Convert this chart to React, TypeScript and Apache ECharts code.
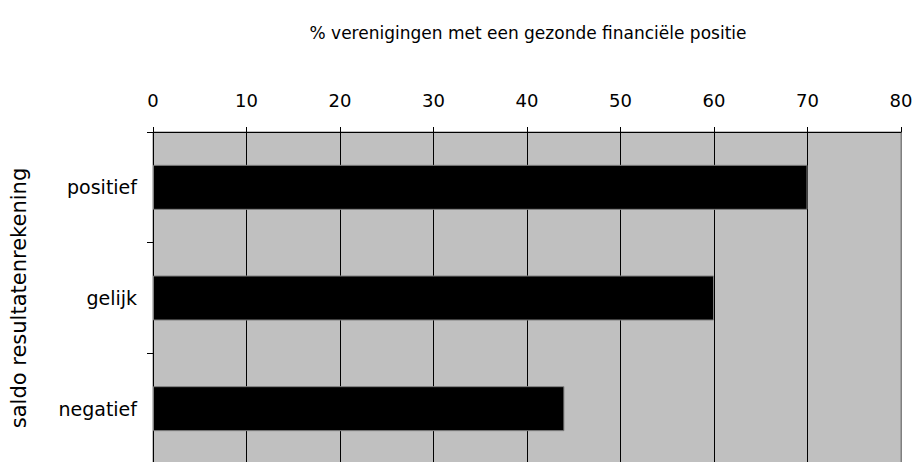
import React, { useEffect, useRef } from "react";
import * as echarts from "echarts";

const categories = ["positief", "gelijk", "negatief"];
const values = [70, 60, 44];
const xTicks = [0, 10, 20, 30, 40, 50, 60, 70, 80];
const titleText = "% verenigingen met een gezonde financiële positie";
const yAxisName = "saldo resultatenrekening";

export default function App() {
  const ref = useRef<HTMLDivElement>(null);
  useEffect(() => {
    if (!ref.current) return;
    const chart = echarts.init(ref.current, null, { renderer: "svg" });
    const font = "DejaVu Sans";
    chart.setOption({
      animation: false,
      backgroundColor: "#ffffff",
      title: {
        text: titleText,
        left: 523,
        textAlign: "center",
        top: 19,
        textStyle: { fontFamily: font, fontSize: 17, fontWeight: "normal", color: "#000" },
      },
      grid: {
        left: 153,
        right: 17,
        top: 132,
        bottom: -2,
        containLabel: false,
        outerBoundsMode: "none",
        show: true,
        backgroundColor: "#c0c0c0",
        borderColor: "#808080",
        borderWidth: 1,
      },
      xAxis: {
        type: "value",
        position: "top",
        min: xTicks[0],
        max: xTicks[xTicks.length - 1],
        interval: 10,
        axisLine: { show: true, lineStyle: { color: "#000", width: 1 } },
        axisTick: { show: true, length: 5, lineStyle: { color: "#000" } },
        axisLabel: { fontFamily: font, fontSize: 18, color: "#000", margin: 23 },
        splitLine: {
          show: true,
          lineStyle: {
            color: xTicks.map((t, i) => (i === xTicks.length - 1 ? "#808080" : "#000")),
            width: 1,
          },
        },
      },
      yAxis: {
        type: "category",
        data: categories,
        inverse: true,
        name: yAxisName,
        nameLocation: "middle",
        nameRotate: 90,
        nameGap: 124,
        nameTextStyle: { fontFamily: font, fontSize: 21, color: "#000" },
        axisLine: { show: true, lineStyle: { color: "#000", width: 1 } },
        axisTick: { show: true, length: 6, lineStyle: { color: "#000" } },
        axisLabel: { fontFamily: font, fontSize: 19, color: "#000", margin: 16 },
      },
      series: [
        {
          type: "bar",
          data: values,
          barWidth: 45,
          itemStyle: { color: "#000", borderColor: "#808080", borderWidth: 1 },
        },
      ],
    });
    return () => chart.dispose();
  }, []);
  return (
    <div
      ref={ref}
      style={{ position: "fixed", left: 0, top: 0, width: 918, height: 462 }}
    />
  );
}
